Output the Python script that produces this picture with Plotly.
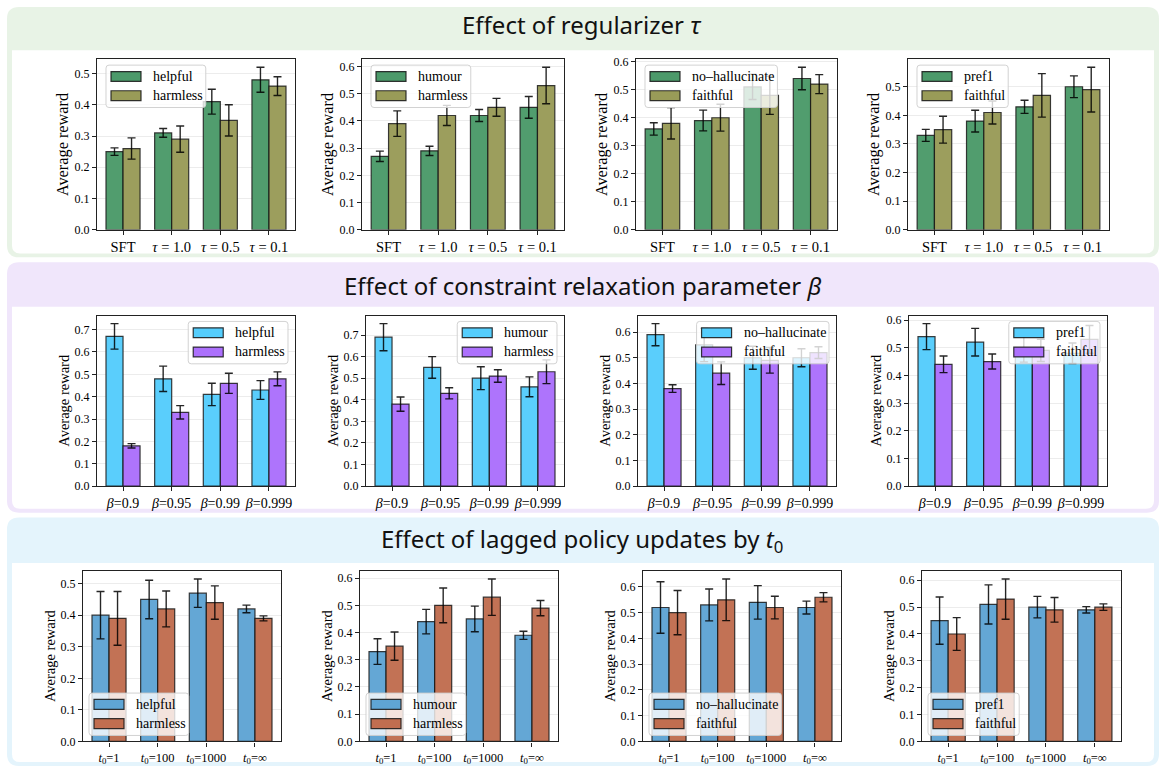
import plotly.graph_objects as go

W, H = 1161, 774

# ---------------- data ----------------
tau_labels = ["SFT", "<i>τ</i> = 1.0", "<i>τ</i> = 0.5", "<i>τ</i> = 0.1"]
beta_labels = ["<i>β</i>=0.9", "<i>β</i>=0.95", "<i>β</i>=0.99", "<i>β</i>=0.999"]
t0_labels = ["<i>t</i><sub>0</sub>=1", "<i>t</i><sub>0</sub>=100",
             "<i>t</i><sub>0</sub>=1000", "<i>t</i><sub>0</sub>=∞"]

# Row 1 : regularizer tau
tau_helpful = [0.25, 0.31, 0.41, 0.48]
tau_helpful_err = [0.012, 0.014, 0.040, 0.040]
tau_harmless_a = [0.26, 0.29, 0.35, 0.46]
tau_harmless_a_err = [0.034, 0.042, 0.050, 0.030]
tau_humour = [0.27, 0.29, 0.42, 0.45]
tau_humour_err = [0.019, 0.017, 0.022, 0.040]
tau_harmless_b = [0.39, 0.42, 0.45, 0.53]
tau_harmless_b_err = [0.047, 0.037, 0.033, 0.067]
tau_nohal = [0.36, 0.39, 0.51, 0.54]
tau_nohal_err = [0.022, 0.037, 0.045, 0.040]
tau_faithful_a = [0.38, 0.40, 0.48, 0.52]
tau_faithful_a_err = [0.056, 0.048, 0.068, 0.034]
tau_pref1 = [0.33, 0.38, 0.43, 0.50]
tau_pref1_err = [0.021, 0.038, 0.023, 0.038]
tau_faithful_b = [0.35, 0.41, 0.47, 0.49]
tau_faithful_b_err = [0.047, 0.040, 0.076, 0.078]

# Row 2 : constraint relaxation beta
beta_helpful = [0.67, 0.48, 0.41, 0.43]
beta_helpful_err = [0.057, 0.057, 0.050, 0.042]
beta_harmless_a = [0.18, 0.33, 0.46, 0.48]
beta_harmless_a_err = [0.010, 0.030, 0.045, 0.031]
beta_humour = [0.69, 0.55, 0.50, 0.46]
beta_humour_err = [0.063, 0.050, 0.053, 0.046]
beta_harmless_b = [0.38, 0.43, 0.51, 0.53]
beta_harmless_b_err = [0.033, 0.026, 0.029, 0.055]
beta_nohal = [0.59, 0.55, 0.50, 0.50]
beta_nohal_err = [0.043, 0.065, 0.045, 0.035]
beta_faithful_a = [0.38, 0.44, 0.49, 0.52]
beta_faithful_a_err = [0.015, 0.044, 0.050, 0.023]
beta_pref1 = [0.54, 0.52, 0.50, 0.48]
beta_pref1_err = [0.047, 0.050, 0.052, 0.037]
beta_faithful_b = [0.44, 0.45, 0.49, 0.53]
beta_faithful_b_err = [0.030, 0.027, 0.040, 0.050]

# Row 3 : lagged policy updates t0
t0_helpful = [0.40, 0.45, 0.47, 0.42]
t0_helpful_err = [0.075, 0.061, 0.045, 0.012]
t0_harmless_a = [0.39, 0.42, 0.44, 0.39]
t0_harmless_a_err = [0.085, 0.057, 0.053, 0.008]
t0_humour = [0.33, 0.44, 0.45, 0.39]
t0_humour_err = [0.047, 0.045, 0.047, 0.015]
t0_harmless_b = [0.35, 0.50, 0.53, 0.49]
t0_harmless_b_err = [0.052, 0.064, 0.067, 0.028]
t0_nohal = [0.52, 0.53, 0.54, 0.52]
t0_nohal_err = [0.100, 0.062, 0.065, 0.025]
t0_faithful_a = [0.50, 0.55, 0.52, 0.56]
t0_faithful_a_err = [0.086, 0.081, 0.044, 0.018]
t0_pref1 = [0.45, 0.51, 0.50, 0.49]
t0_pref1_err = [0.088, 0.073, 0.040, 0.012]
t0_faithful_b = [0.40, 0.53, 0.49, 0.50]
t0_faithful_b_err = [0.061, 0.075, 0.046, 0.012]

panel_titles = ["Effect of regularizer <i>τ</i>",
                "Effect of constraint relaxation parameter <i>β</i>",
                "Effect of lagged policy updates by <i>t</i><sub>0</sub>"]

# ---------------- styling / layout geometry (pixels) ----------------
row_colors = [("#4c9a6a", "#999b58"), ("#55cdfc", "#ac70fc"), ("#5fa5d4", "#c16e50")]
panel_bg = ["#e8f3e6", "#f0e6fb", "#e4f4fc"]
panel_box = [(3, 47, 257), (262, 307, 516), (521, 567, 773)]  # top, header bottom, bottom
title_y = [21, 286, 544]
row_y = [(56, 229), (316, 489), (575, 748)]
row_x = [[(97, 295), (362, 564), (636, 837), (908, 1109)],
         [(97, 295), (366, 564), (638, 836), (909, 1107)],
         [(83, 281), (360, 558), (643, 841), (922, 1121)]]
legend_loc = ["upper left", "upper right", "lower left"]
xtick_size = [14.5, 14, 12.5]
ylab_size = [16.3, 14.5, 14.5]
tick_labels = [tau_labels, beta_labels, t0_labels]

rows = [
    [("helpful", tau_helpful, tau_helpful_err, "harmless", tau_harmless_a, tau_harmless_a_err),
     ("humour", tau_humour, tau_humour_err, "harmless", tau_harmless_b, tau_harmless_b_err),
     ("no–hallucinate", tau_nohal, tau_nohal_err, "faithful", tau_faithful_a, tau_faithful_a_err),
     ("pref1", tau_pref1, tau_pref1_err, "faithful", tau_faithful_b, tau_faithful_b_err)],
    [("helpful", beta_helpful, beta_helpful_err, "harmless", beta_harmless_a, beta_harmless_a_err),
     ("humour", beta_humour, beta_humour_err, "harmless", beta_harmless_b, beta_harmless_b_err),
     ("no–hallucinate", beta_nohal, beta_nohal_err, "faithful", beta_faithful_a, beta_faithful_a_err),
     ("pref1", beta_pref1, beta_pref1_err, "faithful", beta_faithful_b, beta_faithful_b_err)],
    [("helpful", t0_helpful, t0_helpful_err, "harmless", t0_harmless_a, t0_harmless_a_err),
     ("humour", t0_humour, t0_humour_err, "harmless", t0_harmless_b, t0_harmless_b_err),
     ("no–hallucinate", t0_nohal, t0_nohal_err, "faithful", t0_faithful_a, t0_faithful_a_err),
     ("pref1", t0_pref1, t0_pref1_err, "faithful", t0_faithful_b, t0_faithful_b_err)],
]

SERIF = "Liberation Serif, Times New Roman, serif"
SANS = "Noto Sans, Open Sans, sans-serif"


def px(x):
    return x / W


def py(y):
    return 1 - y / H


def rrect(x0, y0, x1, y1, r=(0, 0, 0, 0)):
    tl, tr, br, bl = r
    s = "M{},{} ".format(px(x0 + tl), py(y0))
    s += "L{},{} ".format(px(x1 - tr), py(y0))
    s += "Q{},{} {},{} ".format(px(x1), py(y0), px(x1), py(y0 + tr))
    s += "L{},{} ".format(px(x1), py(y1 - br))
    s += "Q{},{} {},{} ".format(px(x1), py(y1), px(x1 - br), py(y1))
    s += "L{},{} ".format(px(x0 + bl), py(y1))
    s += "Q{},{} {},{} ".format(px(x0), py(y1), px(x0), py(y1 - bl))
    s += "L{},{} ".format(px(x0), py(y0 + tl))
    s += "Q{},{} {},{} Z".format(px(x0), py(y0), px(x0 + tl), py(y0))
    return s


TW = {"a": .444, "c": .444, "e": .444, "f": .333, "h": .5, "i": .278, "l": .278,
      "m": .778, "n": .5, "o": .5, "p": .5, "r": .333, "s": .389, "t": .278,
      "u": .5, "1": .5, "–": .5}


def text_w(t, size):
    return sum(TW.get(c, .5) for c in t) * size


fig = go.Figure()
shapes = []
annotations = []
layout = {}

# panel backgrounds
for i, (top, hb, bot) in enumerate(panel_box):
    shapes.append(dict(type="path", xref="paper", yref="paper", layer="below",
                       path=rrect(7, top, 1159, bot, (12, 12, 12, 12)),
                       fillcolor=panel_bg[i], line=dict(width=0)))
    shapes.append(dict(type="path", xref="paper", yref="paper", layer="below",
                       path=rrect(12, hb, 1154, bot - 4, (0, 0, 8, 8)),
                       fillcolor="#ffffff", line=dict(width=0)))
    annotations.append(dict(text=panel_titles[i], x=582 / W, y=py(title_y[i]),
                            xref="paper", yref="paper", showarrow=False,
                            xanchor="center", yanchor="middle",
                            font=dict(family=SANS, size=24, color="#111111")))

LEG_FONT = 14
n = 0
for r in range(3):
    c1, c2 = row_colors[r]
    yt, yb = row_y[r]
    for s in range(4):
        n += 1
        xl, xr = row_x[r][s]
        name1, v1, e1, name2, v2, e2 = rows[r][s]
        ax = "" if n == 1 else str(n)
        for name, vals, errs, col in ((name1, v1, e1, c1), (name2, v2, e2, c2)):
            fig.add_trace(go.Bar(
                x=[0, 1, 2, 3], y=vals, name=name, showlegend=False,
                xaxis="x" + ax, yaxis="y" + ax,
                marker=dict(color=col, opacity=0.97,
                            line=dict(color="rgba(20,20,20,0.85)", width=1.2)),
                error_y=dict(type="data", array=errs, visible=True,
                             color="rgba(0,0,0,0.85)", thickness=1.4, width=4)))
        ymax = max(max(a + b for a, b in zip(v1, e1)), max(a + b for a, b in zip(v2, e2))) * 1.05
        layout["xaxis" + ax] = dict(
            domain=[px(xl), px(xr)], anchor="y" + ax, range=[-0.535, 3.535],
            tickvals=[0, 1, 2, 3], ticktext=tick_labels[r],
            showline=True, mirror=True, linecolor="#222222", linewidth=1.3,
            ticks="outside", ticklen=4, tickwidth=1.1, tickcolor="#222222",
            showgrid=False, zeroline=False,
            tickfont=dict(family=SERIF, size=xtick_size[r], color="#000000"))
        layout["yaxis" + ax] = dict(
            domain=[py(yb), py(yt)], anchor="x" + ax, range=[0, ymax],
            dtick=0.1, tickformat=".1f",
            showline=True, mirror=True, linecolor="#222222", linewidth=1.3,
            ticks="outside", ticklen=4, tickwidth=1.1, tickcolor="#222222",
            showgrid=True, gridcolor="#ececec", gridwidth=1, zeroline=False,
            tickfont=dict(family=SERIF, size=12, color="#000000"),
            title=dict(text="Average reward", standoff=1,
                       font=dict(family=SERIF, size=ylab_size[r], color="#000000")))

        # legend (drawn as shapes + text)
        tw = max(text_w(name1, LEG_FONT), text_w(name2, LEG_FONT))
        bw = 46 + tw + 4
        bh = 43
        loc = legend_loc[r]
        if loc == "upper left":
            bx0, by0 = xl + 9, yt + 6
        elif loc == "upper right":
            bx0, by0 = xr - 7 - bw, yt + 6
        else:
            bx0, by0 = xl + 6, yb - 6 - bh
        shapes.append(dict(type="path", xref="paper", yref="paper", layer="above",
                           path=rrect(bx0, by0, bx0 + bw, by0 + bh, (3, 3, 3, 3)),
                           fillcolor="rgba(255,255,255,0.8)",
                           line=dict(color="rgba(205,205,205,0.9)", width=1)))
        for k, (name, col) in enumerate(((name1, c1), (name2, c2))):
            cy = by0 + 11.5 + 19.5 * k
            shapes.append(dict(type="rect", xref="paper", yref="paper", layer="above",
                               x0=px(bx0 + 5), x1=px(bx0 + 35), y0=py(cy - 5), y1=py(cy + 5),
                               fillcolor=col, line=dict(color="rgba(20,20,20,0.85)", width=1.2)))
            annotations.append(dict(text=name, x=px(bx0 + 45), y=py(cy), xref="paper", yref="paper",
                                    showarrow=False, xanchor="left", yanchor="middle",
                                    font=dict(family=SERIF, size=LEG_FONT, color="#000000")))

fig.update_layout(
    width=W, height=H, margin=dict(l=0, r=0, t=0, b=0),
    paper_bgcolor="#ffffff", plot_bgcolor="#ffffff",
    barmode="group", bargap=0.3, bargroupgap=0.0,
    showlegend=False, shapes=shapes, annotations=annotations, **layout)

fig.write_html("out.html")
